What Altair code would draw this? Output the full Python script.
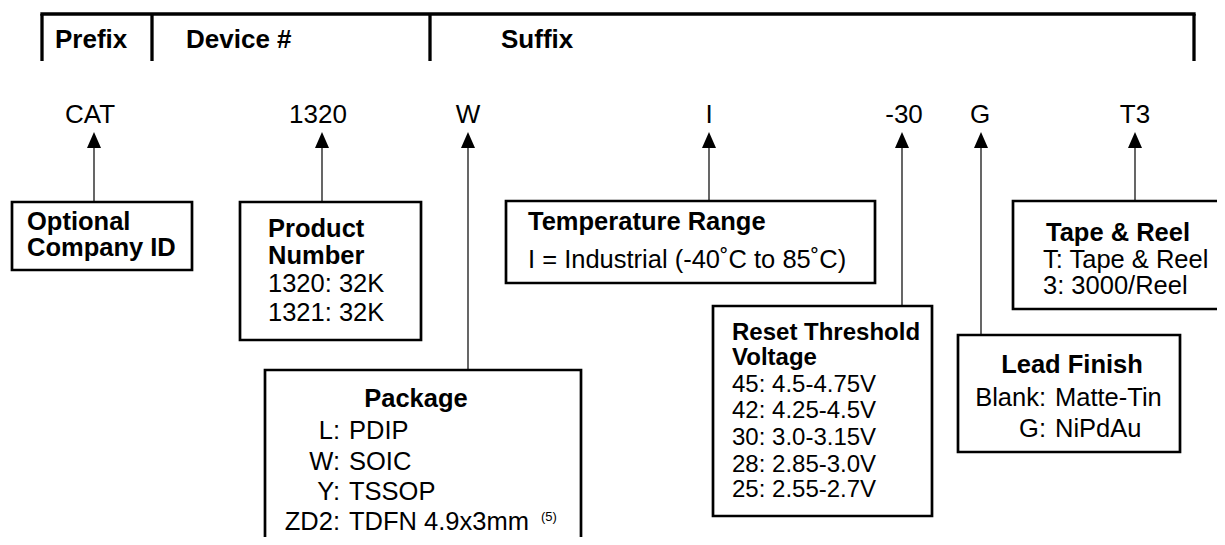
import altair as alt
import pandas as pd

# ---------------- data (reference pixel coordinates) ----------------
header_labels = ["Prefix", "Device #", "Suffix"]
header_x = [55, 186, 501]
header_y = [48, 48, 48]
header_divider_x = [42, 152, 430, 1194]

code_labels = ["CAT", "1320", "W", "I", "-30", "G", "T3"]
code_x = [90, 318, 468, 709, 904, 980, 1135]
code_y = [123, 123, 123, 123, 123, 123, 123]
arrow_x = [94, 322, 468, 709, 902, 981, 1135]

box_names = ["Optional Company ID", "Product Number", "Package", "Temperature Range",
             "Reset Threshold Voltage", "Lead Finish", "Tape & Reel"]
box_left = [12, 240, 265, 506, 713, 958, 1013]
box_right = [192, 421, 581, 875, 932, 1180, 1240]
box_top = [202, 202, 370, 201, 306, 335, 201]
box_bottom = [270, 340, 560, 283, 516, 452, 309]

bold_left_text = ["Optional", "Company ID", "Product", "Number", "Temperature Range", "Tape & Reel"]
bold_left_x = [27, 27, 268, 268, 528, 1046]
bold_left_y = [230, 256, 237, 264, 230, 241]

bold_center_text = ["Package", "Lead Finish"]
bold_center_x = [416, 1072]
bold_center_y = [407, 373]

reset_title_text = ["Reset Threshold", "Voltage"]
reset_title_x = [732, 732]
reset_title_y = [340, 365]

reset_lines = ["45: 4.5-4.75V", "42: 4.25-4.5V", "30: 3.0-3.15V", "28: 2.85-3.0V", "25: 2.55-2.7V"]
reset_x = [732, 732, 732, 732, 732]
reset_y = [392, 418, 445, 472, 497]

plain_left_text = ["1320: 32K", "1321: 32K", "I = Industrial (-40˚C to 85˚C)",
                   "T: Tape & Reel", "3: 3000/Reel",
                   "PDIP", "SOIC", "TSSOP", "TDFN 4.9x3mm",
                   "Matte-Tin", "NiPdAu"]
plain_left_x = [268, 268, 528, 1043, 1043, 349, 349, 349, 349, 1055, 1055]
plain_left_y = [292, 321, 268, 268, 294, 439, 470, 500, 530, 406, 437]

plain_right_text = ["L:", "W:", "Y:", "ZD2:", "Blank:", "G:"]
plain_right_x = [340, 340, 340, 340, 1046, 1046]
plain_right_y = [439, 470, 500, 530, 406, 437]

note_text = ["(5)"]
note_x = [541]
note_y = [521]

# ---------------- scales ----------------
xs = alt.Scale(domain=[8, 1217], nice=False, zero=False)
ys = alt.Scale(domain=[8, 537], nice=False, zero=False, reverse=True)


def X(f="x"):
    return alt.X(f"{f}:Q", scale=xs, axis=None)


def Y(f="y"):
    return alt.Y(f"{f}:Q", scale=ys, axis=None)


FONT = "Liberation Sans"


def text_layer(texts, xv, yv, align, weight, size):
    df = pd.DataFrame({"text": texts, "x": xv, "y": yv})
    return alt.Chart(df).mark_text(
        align=align, baseline="alphabetic", font=FONT, fontSize=size,
        fontWeight=weight, color="black"
    ).encode(x=X(), y=Y(), text="text:N")


# header bracket
hdr_top = pd.DataFrame({"x": [header_divider_x[0]], "x2": [header_divider_x[-1]], "y": [14]})
hdr_top_layer = alt.Chart(hdr_top).mark_rule(color="black", strokeWidth=3.3, strokeCap="square").encode(
    x=X(), x2="x2:Q", y=Y())
hdr_v = pd.DataFrame({"x": header_divider_x, "y": [14] * 4, "y2": [61] * 4})
hdr_v_layer = alt.Chart(hdr_v).mark_rule(color="black", strokeWidth=3.3).encode(
    x=X(), y=Y(), y2="y2:Q")

# stems
stems = pd.DataFrame({"x": arrow_x, "y": [147] * len(arrow_x), "y2": box_top})
stem_layer = alt.Chart(stems).mark_rule(color="black", strokeWidth=1.2).encode(
    x=X(), y=Y(), y2="y2:Q")

# arrow heads
heads = pd.DataFrame({"x": arrow_x, "y": [140] * len(arrow_x)})
head_layer = alt.Chart(heads).mark_point(
    shape="M0,-1L0.875,1L-0.875,1Z", size=256, filled=True, opacity=1,
    color="black", strokeWidth=0
).encode(x=X(), y=Y())

# boxes
boxes = pd.DataFrame({"name": box_names, "x": box_left, "x2": box_right,
                      "y": box_top, "y2": box_bottom})
box_layer = alt.Chart(boxes).mark_rect(
    fillOpacity=0, stroke="black", strokeWidth=2.7
).encode(x=X(), x2="x2:Q", y=Y(), y2="y2:Q")

layers = [
    hdr_top_layer, hdr_v_layer, stem_layer, head_layer, box_layer,
    text_layer(header_labels, header_x, header_y, "left", "bold", 26),
    text_layer(code_labels, code_x, code_y, "center", "normal", 26),
    text_layer(bold_left_text, bold_left_x, bold_left_y, "left", "bold", 25.5),
    text_layer(bold_center_text, bold_center_x, bold_center_y, "center", "bold", 25.5),
    text_layer(reset_title_text, reset_title_x, reset_title_y, "left", "bold", 24),
    text_layer(reset_lines, reset_x, reset_y, "left", "normal", 24),
    text_layer(plain_left_text, plain_left_x, plain_left_y, "left", "normal", 25.5),
    text_layer(plain_right_text, plain_right_x, plain_right_y, "right", "normal", 25.5),
    text_layer(note_text, note_x, note_y, "left", "normal", 13),
]

chart = alt.layer(*layers).properties(
    width=1209, height=529, padding=0,
    autosize=alt.AutoSizeParams(type="none"),
).configure_view(strokeWidth=0)

chart.save("out.html", embed_options={"renderer": "svg", "actions": False})
